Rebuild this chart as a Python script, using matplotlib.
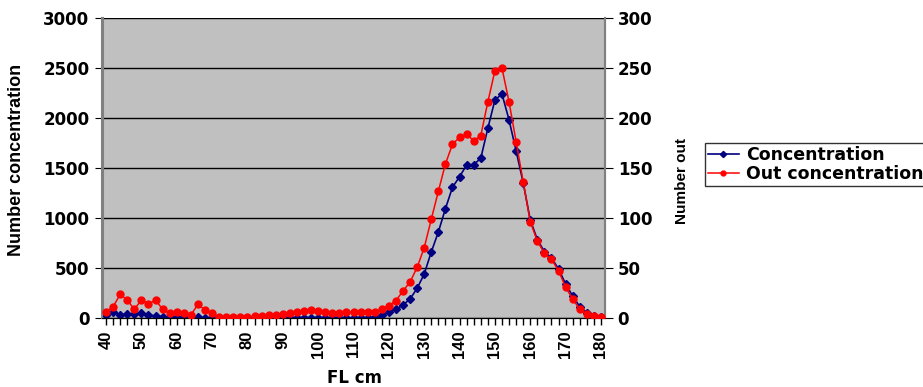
import matplotlib.pyplot as plt
import numpy as np

plt.rcParams['font.family'] = ['DejaVu Sans']
plt.rcParams['font.weight'] = 'bold'

# fork length classes (cm)
lengths = list(range(40, 182, 2))

# number concentration (left axis)
concentration = [30, 57, 33, 37, 37, 47, 30, 20, 13, 7, 13, 7, 7, 7, 5,
                 5, 5, 5, 5, 5, 5, 5, 5, 5, 5, 5, 5, 5, 5, 5,
                 5, 5, 5, 5, 5, 5, 5, 5, 10, 30, 57, 87, 130, 190, 297,
                 440, 660, 860, 1093, 1307, 1413, 1530, 1533, 1597, 1897, 2180, 2240, 1980, 1670, 1353,
                 980, 785, 663, 600, 490, 340, 220, 113, 53, 23, 13]

# number out (right axis)
out_concentration = [6.3, 11.3, 23.7, 18.0, 8.7, 18.0, 14.0, 18.0, 8.7, 4.7, 6.3, 4.7, 3.0, 13.7, 8.0,
                     4.7, 0.7, 0.7, 0.7, 1.0, 1.3, 2.0, 2.3, 2.7, 3.3, 3.7, 5.3, 6.3, 7.3, 8.0,
                     6.7, 6.0, 5.3, 5.3, 6.0, 5.7, 5.7, 5.7, 5.7, 8.7, 12.3, 17.3, 27.0, 36.0, 50.7,
                     70.3, 98.7, 126.7, 154.0, 173.7, 180.7, 183.7, 177.3, 182.3, 216.0, 247.3, 250.0, 216.0, 176.3, 136.3,
                     96.3, 77.0, 64.7, 58.7, 47.3, 30.7, 19.0, 8.7, 3.7, 2.3, 0.7]

x = np.arange(len(lengths))

fig = plt.figure(figsize=(9.23, 3.87), dpi=100)
ax = fig.add_axes([102.5 / 923, 69 / 387, 502 / 923, 300 / 387])
ax.set_facecolor('#C0C0C0')
ax2 = ax.twinx()

ax.plot(x, concentration, color='#000080', marker='D', markersize=4.5, lw=1.2,
        label='Concentration', zorder=3)
ax2.plot(x, out_concentration, color='#FF0000', marker='o', markersize=5, lw=1.1,
         label='Out concentration', zorder=3)

ax.set_xlim(-0.5, len(lengths) - 0.5)
ax.set_ylim(0, 3000)
ax2.set_ylim(0, 300)
ax.set_yticks(range(0, 3001, 500))
ax2.set_yticks(range(0, 301, 50))
ax.yaxis.grid(True, color='black', lw=1)
ax.set_axisbelow(True)

ax.set_xticks(x, minor=True)
ax.set_xticks(x[::5])
ax.set_xticklabels([str(v) for v in lengths[::5]], rotation=90,
                   fontfamily='Liberation Sans', fontweight='bold')
ax.tick_params(axis='x', which='both', length=5, width=1, direction='out',
               labelsize=12, pad=4)
ax.tick_params(axis='y', length=6, labelsize=12)
ax2.tick_params(axis='y', length=6, labelsize=12)

for a in (ax, ax2):
    a.spines['top'].set_visible(False)
    a.spines['left'].set_color('#808080')
    a.spines['right'].set_color('#808080')
    a.spines['left'].set_linewidth(1.5)
    a.spines['right'].set_linewidth(1.5)
    a.spines['bottom'].set_color('black')

ax.set_xlabel('FL cm', fontsize=12, fontweight='bold')
ax.xaxis.set_label_coords(0.501, -0.17)
ax.set_ylabel('Number concentration', fontsize=13, fontweight='bold',
              fontfamily='Liberation Sans')
ax.yaxis.set_label_coords(-0.155, 0.527)
ax2.set_ylabel('Number out', fontsize=11, fontweight='bold',
               fontfamily='Liberation Sans', rotation=90)
ax2.yaxis.set_label_coords(1.14, 0.457)

h1, l1 = ax.get_legend_handles_labels()
h2, l2 = ax2.get_legend_handles_labels()
leg = fig.legend(h1 + h2, l1 + l2, loc='upper left', bbox_to_anchor=(705 / 923, 1 - 143 / 387),
                 frameon=True, fancybox=False, edgecolor='black', fontsize=12.5,
                 handlelength=1.8, borderpad=0.15, labelspacing=0.1, handletextpad=0.4,
                 markerscale=0.7, borderaxespad=0)
leg.get_frame().set_linewidth(1)

fig.savefig('out.png', dpi=100)
